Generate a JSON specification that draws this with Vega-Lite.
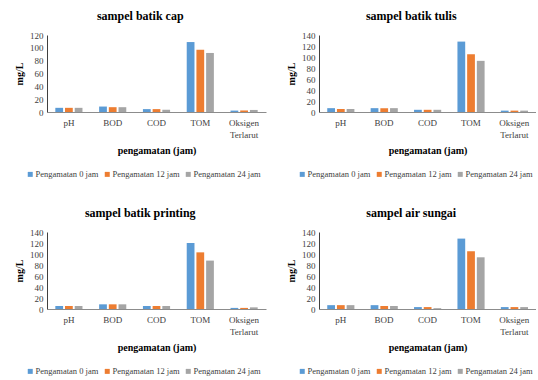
{
  "$schema": "https://vega.github.io/schema/vega-lite/v6.json",
  "padding": {"left": 14, "top": 10, "right": 0, "bottom": 0},
  "background": "white",
  "datasets": {
    "obs": [
      {"sampel": "sampel batik cap", "parameter": "pH", "waktu": "Pengamatan 0 jam", "nilai": 6.5},
      {"sampel": "sampel batik cap", "parameter": "pH", "waktu": "Pengamatan 12 jam", "nilai": 6.5},
      {"sampel": "sampel batik cap", "parameter": "pH", "waktu": "Pengamatan 24 jam", "nilai": 6.5},
      {"sampel": "sampel batik cap", "parameter": "BOD", "waktu": "Pengamatan 0 jam", "nilai": 8.5},
      {"sampel": "sampel batik cap", "parameter": "BOD", "waktu": "Pengamatan 12 jam", "nilai": 7.5},
      {"sampel": "sampel batik cap", "parameter": "BOD", "waktu": "Pengamatan 24 jam", "nilai": 7.5},
      {"sampel": "sampel batik cap", "parameter": "COD", "waktu": "Pengamatan 0 jam", "nilai": 4.5},
      {"sampel": "sampel batik cap", "parameter": "COD", "waktu": "Pengamatan 12 jam", "nilai": 4.5},
      {"sampel": "sampel batik cap", "parameter": "COD", "waktu": "Pengamatan 24 jam", "nilai": 3.5},
      {"sampel": "sampel batik cap", "parameter": "TOM", "waktu": "Pengamatan 0 jam", "nilai": 109},
      {"sampel": "sampel batik cap", "parameter": "TOM", "waktu": "Pengamatan 12 jam", "nilai": 97},
      {"sampel": "sampel batik cap", "parameter": "TOM", "waktu": "Pengamatan 24 jam", "nilai": 92},
      {"sampel": "sampel batik cap", "parameter": "Oksigen Terlarut", "waktu": "Pengamatan 0 jam", "nilai": 2.2},
      {"sampel": "sampel batik cap", "parameter": "Oksigen Terlarut", "waktu": "Pengamatan 12 jam", "nilai": 2.4},
      {"sampel": "sampel batik cap", "parameter": "Oksigen Terlarut", "waktu": "Pengamatan 24 jam", "nilai": 3.2},

      {"sampel": "sampel batik tulis", "parameter": "pH", "waktu": "Pengamatan 0 jam", "nilai": 7},
      {"sampel": "sampel batik tulis", "parameter": "pH", "waktu": "Pengamatan 12 jam", "nilai": 5.5},
      {"sampel": "sampel batik tulis", "parameter": "pH", "waktu": "Pengamatan 24 jam", "nilai": 5.5},
      {"sampel": "sampel batik tulis", "parameter": "BOD", "waktu": "Pengamatan 0 jam", "nilai": 7},
      {"sampel": "sampel batik tulis", "parameter": "BOD", "waktu": "Pengamatan 12 jam", "nilai": 7},
      {"sampel": "sampel batik tulis", "parameter": "BOD", "waktu": "Pengamatan 24 jam", "nilai": 7},
      {"sampel": "sampel batik tulis", "parameter": "COD", "waktu": "Pengamatan 0 jam", "nilai": 4},
      {"sampel": "sampel batik tulis", "parameter": "COD", "waktu": "Pengamatan 12 jam", "nilai": 4},
      {"sampel": "sampel batik tulis", "parameter": "COD", "waktu": "Pengamatan 24 jam", "nilai": 4},
      {"sampel": "sampel batik tulis", "parameter": "TOM", "waktu": "Pengamatan 0 jam", "nilai": 128},
      {"sampel": "sampel batik tulis", "parameter": "TOM", "waktu": "Pengamatan 12 jam", "nilai": 105},
      {"sampel": "sampel batik tulis", "parameter": "TOM", "waktu": "Pengamatan 24 jam", "nilai": 93},
      {"sampel": "sampel batik tulis", "parameter": "Oksigen Terlarut", "waktu": "Pengamatan 0 jam", "nilai": 2.5},
      {"sampel": "sampel batik tulis", "parameter": "Oksigen Terlarut", "waktu": "Pengamatan 12 jam", "nilai": 2.5},
      {"sampel": "sampel batik tulis", "parameter": "Oksigen Terlarut", "waktu": "Pengamatan 24 jam", "nilai": 2.5},

      {"sampel": "sampel batik printing", "parameter": "pH", "waktu": "Pengamatan 0 jam", "nilai": 5.5},
      {"sampel": "sampel batik printing", "parameter": "pH", "waktu": "Pengamatan 12 jam", "nilai": 5.5},
      {"sampel": "sampel batik printing", "parameter": "pH", "waktu": "Pengamatan 24 jam", "nilai": 5.5},
      {"sampel": "sampel batik printing", "parameter": "BOD", "waktu": "Pengamatan 0 jam", "nilai": 8.5},
      {"sampel": "sampel batik printing", "parameter": "BOD", "waktu": "Pengamatan 12 jam", "nilai": 8.5},
      {"sampel": "sampel batik printing", "parameter": "BOD", "waktu": "Pengamatan 24 jam", "nilai": 8.5},
      {"sampel": "sampel batik printing", "parameter": "COD", "waktu": "Pengamatan 0 jam", "nilai": 5.5},
      {"sampel": "sampel batik printing", "parameter": "COD", "waktu": "Pengamatan 12 jam", "nilai": 5.5},
      {"sampel": "sampel batik printing", "parameter": "COD", "waktu": "Pengamatan 24 jam", "nilai": 5.5},
      {"sampel": "sampel batik printing", "parameter": "TOM", "waktu": "Pengamatan 0 jam", "nilai": 120},
      {"sampel": "sampel batik printing", "parameter": "TOM", "waktu": "Pengamatan 12 jam", "nilai": 103},
      {"sampel": "sampel batik printing", "parameter": "TOM", "waktu": "Pengamatan 24 jam", "nilai": 88},
      {"sampel": "sampel batik printing", "parameter": "Oksigen Terlarut", "waktu": "Pengamatan 0 jam", "nilai": 2},
      {"sampel": "sampel batik printing", "parameter": "Oksigen Terlarut", "waktu": "Pengamatan 12 jam", "nilai": 2},
      {"sampel": "sampel batik printing", "parameter": "Oksigen Terlarut", "waktu": "Pengamatan 24 jam", "nilai": 3},

      {"sampel": "sampel air sungai", "parameter": "pH", "waktu": "Pengamatan 0 jam", "nilai": 7},
      {"sampel": "sampel air sungai", "parameter": "pH", "waktu": "Pengamatan 12 jam", "nilai": 7},
      {"sampel": "sampel air sungai", "parameter": "pH", "waktu": "Pengamatan 24 jam", "nilai": 7},
      {"sampel": "sampel air sungai", "parameter": "BOD", "waktu": "Pengamatan 0 jam", "nilai": 7},
      {"sampel": "sampel air sungai", "parameter": "BOD", "waktu": "Pengamatan 12 jam", "nilai": 5.5},
      {"sampel": "sampel air sungai", "parameter": "BOD", "waktu": "Pengamatan 24 jam", "nilai": 5.5},
      {"sampel": "sampel air sungai", "parameter": "COD", "waktu": "Pengamatan 0 jam", "nilai": 3.5},
      {"sampel": "sampel air sungai", "parameter": "COD", "waktu": "Pengamatan 12 jam", "nilai": 3.5},
      {"sampel": "sampel air sungai", "parameter": "COD", "waktu": "Pengamatan 24 jam", "nilai": 1.5},
      {"sampel": "sampel air sungai", "parameter": "TOM", "waktu": "Pengamatan 0 jam", "nilai": 128},
      {"sampel": "sampel air sungai", "parameter": "TOM", "waktu": "Pengamatan 12 jam", "nilai": 105},
      {"sampel": "sampel air sungai", "parameter": "TOM", "waktu": "Pengamatan 24 jam", "nilai": 94},
      {"sampel": "sampel air sungai", "parameter": "Oksigen Terlarut", "waktu": "Pengamatan 0 jam", "nilai": 3.5},
      {"sampel": "sampel air sungai", "parameter": "Oksigen Terlarut", "waktu": "Pengamatan 12 jam", "nilai": 3.5},
      {"sampel": "sampel air sungai", "parameter": "Oksigen Terlarut", "waktu": "Pengamatan 24 jam", "nilai": 3.5}
    ]
  },
  "columns": 2,
  "spacing": {"row": 28, "column": 20},
  "resolve": {"legend": {"color": "independent"}, "scale": {"y": "independent"}},
  "concat": [
    {
      "title": "sampel batik cap",
      "width": 219, "height": 77,
      "data": {"name": "obs"},
      "transform": [{"filter": "datum.sampel == 'sampel batik cap'"}],
      "mark": {"type": "bar"},
      "encoding": {
        "x": {"field": "parameter", "type": "nominal", "sort": ["pH", "BOD", "COD", "TOM", "Oksigen Terlarut"], "title": "pengamatan (jam)", "scale": {"paddingInner": 0.38, "paddingOuter": 0.19}},
        "xOffset": {"field": "waktu", "type": "nominal", "scale": {"paddingInner": 0.2}},
        "y": {"field": "nilai", "type": "quantitative", "title": "mg/L", "scale": {"domain": [0, 120]}, "axis": {"values": [0, 20, 40, 60, 80, 100, 120]}},
        "color": {"field": "waktu", "type": "nominal", "scale": {"domain": ["Pengamatan 0 jam", "Pengamatan 12 jam", "Pengamatan 24 jam"], "range": ["#5B9BD5", "#ED7D31", "#A5A5A5"]}}
      }
    },
    {
      "title": "sampel batik tulis",
      "width": 217, "height": 77,
      "data": {"name": "obs"},
      "transform": [{"filter": "datum.sampel == 'sampel batik tulis'"}],
      "mark": {"type": "bar"},
      "encoding": {
        "x": {"field": "parameter", "type": "nominal", "sort": ["pH", "BOD", "COD", "TOM", "Oksigen Terlarut"], "title": "pengamatan (jam)", "scale": {"paddingInner": 0.38, "paddingOuter": 0.19}},
        "xOffset": {"field": "waktu", "type": "nominal", "scale": {"paddingInner": 0.2}},
        "y": {"field": "nilai", "type": "quantitative", "title": "mg/L", "scale": {"domain": [0, 140]}, "axis": {"values": [0, 20, 40, 60, 80, 100, 120, 140]}},
        "color": {"field": "waktu", "type": "nominal", "scale": {"domain": ["Pengamatan 0 jam", "Pengamatan 12 jam", "Pengamatan 24 jam"], "range": ["#5B9BD5", "#ED7D31", "#A5A5A5"]}}
      }
    },
    {
      "title": "sampel batik printing",
      "width": 219, "height": 77,
      "data": {"name": "obs"},
      "transform": [{"filter": "datum.sampel == 'sampel batik printing'"}],
      "mark": {"type": "bar"},
      "encoding": {
        "x": {"field": "parameter", "type": "nominal", "sort": ["pH", "BOD", "COD", "TOM", "Oksigen Terlarut"], "title": "pengamatan (jam)", "scale": {"paddingInner": 0.38, "paddingOuter": 0.19}},
        "xOffset": {"field": "waktu", "type": "nominal", "scale": {"paddingInner": 0.2}},
        "y": {"field": "nilai", "type": "quantitative", "title": "mg/L", "scale": {"domain": [0, 140]}, "axis": {"values": [0, 20, 40, 60, 80, 100, 120, 140]}},
        "color": {"field": "waktu", "type": "nominal", "scale": {"domain": ["Pengamatan 0 jam", "Pengamatan 12 jam", "Pengamatan 24 jam"], "range": ["#5B9BD5", "#ED7D31", "#A5A5A5"]}}
      }
    },
    {
      "title": "sampel air sungai",
      "width": 217, "height": 77,
      "data": {"name": "obs"},
      "transform": [{"filter": "datum.sampel == 'sampel air sungai'"}],
      "mark": {"type": "bar"},
      "encoding": {
        "x": {"field": "parameter", "type": "nominal", "sort": ["pH", "BOD", "COD", "TOM", "Oksigen Terlarut"], "title": "pengamatan (jam)", "scale": {"paddingInner": 0.38, "paddingOuter": 0.19}},
        "xOffset": {"field": "waktu", "type": "nominal", "scale": {"paddingInner": 0.2}},
        "y": {"field": "nilai", "type": "quantitative", "title": "mg/L", "scale": {"domain": [0, 140]}, "axis": {"values": [0, 20, 40, 60, 80, 100, 120, 140]}},
        "color": {"field": "waktu", "type": "nominal", "scale": {"domain": ["Pengamatan 0 jam", "Pengamatan 12 jam", "Pengamatan 24 jam"], "range": ["#5B9BD5", "#ED7D31", "#A5A5A5"]}}
      }
    }
  ],
  "config": {
    "font": "Liberation Serif",
    "view": {"stroke": null},
    "title": {"font": "Liberation Serif", "fontSize": 12, "fontWeight": "bold", "color": "#000000", "frame": "bounds", "anchor": "middle", "offset": 8},
    "axis": {"labelFont": "Liberation Serif", "labelFontSize": 9, "labelColor": "#404040", "titleFont": "Liberation Serif", "titleFontSize": 10, "titleFontWeight": "bold", "titleColor": "#000000", "grid": false, "ticks": false},
    "axisX": {"labelAngle": 0, "domainColor": "#8c8c8c", "labelPadding": 6, "titlePadding": 6, "labelExpr": "split(datum.label, ' ')", "labelLineHeight": 12},
    "axisY": {"domainColor": "#404040", "labelPadding": 4, "titlePadding": 5},
    "legend": {"orient": "none", "legendX": -21, "legendY": 135, "direction": "horizontal", "title": null, "symbolType": "square", "symbolSize": 25, "labelFont": "Liberation Serif", "labelFontSize": 8.5, "labelColor": "#404040", "columnPadding": 4, "symbolStrokeWidth": 0, "labelOffset": 1}
  }
}
